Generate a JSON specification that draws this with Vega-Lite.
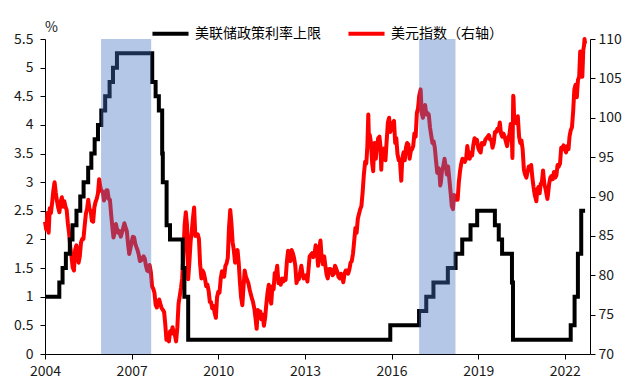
{
  "$schema": "https://vega.github.io/schema/vega-lite/v6.json",
  "width": 545,
  "height": 315,
  "autosize": {"type": "none"},
  "padding": {"left": 45, "top": 39, "right": 50, "bottom": 32},
  "background": "#ffffff",
  "config": {
    "view": {"stroke": null},
    "font": "Noto Sans CJK SC",
    "axis": {"labelFont": "Noto Sans CJK SC", "labelFontSize": 14, "labelColor": "#1a1a1a", "domainColor": "#000000", "tickColor": "#000000", "tickSize": 5, "grid": false}
  },
  "datasets": {
    "band": [
      {"s": "2005-12-10", "e": "2007-09-05"},
      {"s": "2016-12-15", "e": "2018-03-20"}
    ],
    "fed": [
      {"d": "2004-01-01", "r": 1.0},
      {"d": "2004-06-30", "r": 1.25},
      {"d": "2004-08-10", "r": 1.5},
      {"d": "2004-09-21", "r": 1.75},
      {"d": "2004-11-10", "r": 2.0},
      {"d": "2004-12-14", "r": 2.25},
      {"d": "2005-02-02", "r": 2.5},
      {"d": "2005-03-22", "r": 2.75},
      {"d": "2005-05-03", "r": 3.0},
      {"d": "2005-06-30", "r": 3.25},
      {"d": "2005-08-09", "r": 3.5},
      {"d": "2005-09-20", "r": 3.75},
      {"d": "2005-11-01", "r": 4.0},
      {"d": "2005-12-13", "r": 4.25},
      {"d": "2006-01-31", "r": 4.5},
      {"d": "2006-03-28", "r": 4.75},
      {"d": "2006-05-10", "r": 5.0},
      {"d": "2006-06-29", "r": 5.25},
      {"d": "2007-09-18", "r": 4.75},
      {"d": "2007-10-31", "r": 4.5},
      {"d": "2007-12-11", "r": 4.25},
      {"d": "2008-01-22", "r": 3.5},
      {"d": "2008-01-30", "r": 3.0},
      {"d": "2008-03-18", "r": 2.25},
      {"d": "2008-04-30", "r": 2.0},
      {"d": "2008-10-08", "r": 1.5},
      {"d": "2008-10-29", "r": 1.0},
      {"d": "2008-12-16", "r": 0.25},
      {"d": "2015-12-16", "r": 0.5},
      {"d": "2016-12-14", "r": 0.75},
      {"d": "2017-03-15", "r": 1.0},
      {"d": "2017-06-14", "r": 1.25},
      {"d": "2017-12-13", "r": 1.5},
      {"d": "2018-03-21", "r": 1.75},
      {"d": "2018-06-13", "r": 2.0},
      {"d": "2018-09-26", "r": 2.25},
      {"d": "2018-12-19", "r": 2.5},
      {"d": "2019-07-31", "r": 2.25},
      {"d": "2019-09-18", "r": 2.0},
      {"d": "2019-10-30", "r": 1.75},
      {"d": "2020-03-03", "r": 1.25},
      {"d": "2020-03-16", "r": 0.25},
      {"d": "2022-03-16", "r": 0.5},
      {"d": "2022-05-04", "r": 1.0},
      {"d": "2022-06-15", "r": 1.75},
      {"d": "2022-07-27", "r": 2.5},
      {"d": "2022-09-14", "r": 2.5}
    ],
    "dxy": [
      {"d":"2004-01-01","v":86.8},{"d":"2004-01-16","v":85.8},{"d":"2004-02-01","v":87.9},{"d":"2004-02-16","v":85.4},{"d":"2004-03-01","v":88.5},{"d":"2004-03-16","v":87.9},{"d":"2004-04-01","v":89.3},{"d":"2004-04-16","v":90.8},{"d":"2004-05-01","v":91.8},{"d":"2004-05-16","v":90.5},{"d":"2004-06-01","v":89.4},{"d":"2004-06-16","v":88.6},{"d":"2004-07-01","v":88.0},{"d":"2004-07-16","v":89.3},{"d":"2004-08-01","v":89.9},{"d":"2004-08-16","v":88.7},{"d":"2004-09-01","v":89.4},{"d":"2004-09-16","v":88.7},{"d":"2004-10-01","v":88.3},{"d":"2004-10-16","v":86.6},{"d":"2004-11-01","v":85.3},{"d":"2004-11-16","v":83.6},{"d":"2004-12-01","v":82.4},{"d":"2004-12-16","v":81.0},
      {"d":"2005-01-01","v":80.6},{"d":"2005-01-16","v":83.2},{"d":"2005-02-01","v":83.8},{"d":"2005-02-16","v":82.8},{"d":"2005-03-01","v":81.6},{"d":"2005-03-16","v":82.4},{"d":"2005-04-01","v":84.2},{"d":"2005-04-16","v":84.6},{"d":"2005-05-01","v":84.6},{"d":"2005-05-16","v":86.2},{"d":"2005-06-01","v":87.8},{"d":"2005-06-16","v":88.4},{"d":"2005-07-01","v":89.6},{"d":"2005-07-16","v":88.4},{"d":"2005-08-01","v":88.2},{"d":"2005-08-16","v":86.9},{"d":"2005-09-01","v":86.8},{"d":"2005-09-16","v":88.6},{"d":"2005-10-01","v":89.3},{"d":"2005-10-16","v":89.7},{"d":"2005-11-01","v":90.4},{"d":"2005-11-16","v":92.2},{"d":"2005-12-01","v":91.2},{"d":"2005-12-16","v":90.7},
      {"d":"2006-01-01","v":90.6},{"d":"2006-01-16","v":89.5},{"d":"2006-02-01","v":90.0},{"d":"2006-02-16","v":90.8},{"d":"2006-03-01","v":90.8},{"d":"2006-03-16","v":89.7},{"d":"2006-04-01","v":89.6},{"d":"2006-04-16","v":87.8},{"d":"2006-05-01","v":86.2},{"d":"2006-05-16","v":84.8},{"d":"2006-06-01","v":85.4},{"d":"2006-06-16","v":86.5},{"d":"2006-07-01","v":85.8},{"d":"2006-07-16","v":85.4},{"d":"2006-08-01","v":85.6},{"d":"2006-08-16","v":84.9},{"d":"2006-09-01","v":85.4},{"d":"2006-09-16","v":86.0},{"d":"2006-10-01","v":86.6},{"d":"2006-10-16","v":86.1},{"d":"2006-11-01","v":85.6},{"d":"2006-11-16","v":84.0},{"d":"2006-12-01","v":82.7},{"d":"2006-12-16","v":83.4},
      {"d":"2007-01-01","v":84.2},{"d":"2007-01-16","v":84.9},{"d":"2007-02-01","v":84.8},{"d":"2007-02-16","v":84.0},{"d":"2007-03-01","v":83.6},{"d":"2007-03-16","v":83.2},{"d":"2007-04-01","v":82.6},{"d":"2007-04-16","v":81.8},{"d":"2007-05-01","v":81.9},{"d":"2007-05-16","v":82.2},{"d":"2007-06-01","v":82.4},{"d":"2007-06-16","v":82.1},{"d":"2007-07-01","v":81.2},{"d":"2007-07-16","v":80.6},{"d":"2007-08-01","v":80.5},{"d":"2007-08-16","v":81.3},{"d":"2007-09-01","v":80.4},{"d":"2007-09-16","v":78.6},{"d":"2007-10-01","v":78.3},{"d":"2007-10-16","v":77.8},{"d":"2007-11-01","v":76.2},{"d":"2007-11-16","v":75.9},{"d":"2007-12-01","v":76.6},{"d":"2007-12-16","v":76.9},
      {"d":"2008-01-01","v":76.3},{"d":"2008-01-16","v":75.8},{"d":"2008-02-01","v":75.6},{"d":"2008-02-16","v":75.3},{"d":"2008-03-01","v":73.8},{"d":"2008-03-16","v":71.8},{"d":"2008-04-01","v":72.4},{"d":"2008-04-16","v":71.6},{"d":"2008-05-01","v":72.9},{"d":"2008-05-16","v":72.6},{"d":"2008-06-01","v":73.4},{"d":"2008-06-16","v":72.6},{"d":"2008-07-01","v":72.4},{"d":"2008-07-16","v":71.6},{"d":"2008-08-01","v":73.4},{"d":"2008-08-16","v":76.4},{"d":"2008-09-01","v":77.4},{"d":"2008-09-16","v":78.4},{"d":"2008-10-01","v":79.6},{"d":"2008-10-16","v":82.6},{"d":"2008-11-01","v":86.4},{"d":"2008-11-16","v":88.0},{"d":"2008-12-01","v":86.4},{"d":"2008-12-16","v":79.5},
      {"d":"2009-01-01","v":81.8},{"d":"2009-01-16","v":84.3},{"d":"2009-02-01","v":85.8},{"d":"2009-02-16","v":87.4},{"d":"2009-03-01","v":88.6},{"d":"2009-03-16","v":85.0},{"d":"2009-04-01","v":85.2},{"d":"2009-04-16","v":85.2},{"d":"2009-05-01","v":84.6},{"d":"2009-05-16","v":81.4},{"d":"2009-06-01","v":79.6},{"d":"2009-06-16","v":80.6},{"d":"2009-07-01","v":80.3},{"d":"2009-07-16","v":79.6},{"d":"2009-08-01","v":78.6},{"d":"2009-08-16","v":78.8},{"d":"2009-09-01","v":78.0},{"d":"2009-09-16","v":76.6},{"d":"2009-10-01","v":76.6},{"d":"2009-10-16","v":75.8},{"d":"2009-11-01","v":76.1},{"d":"2009-11-16","v":75.2},{"d":"2009-12-01","v":74.6},{"d":"2009-12-16","v":77.2},
      {"d":"2010-01-01","v":77.9},{"d":"2010-01-16","v":77.8},{"d":"2010-02-01","v":79.6},{"d":"2010-02-16","v":80.5},{"d":"2010-03-01","v":80.4},{"d":"2010-03-16","v":79.8},{"d":"2010-04-01","v":81.2},{"d":"2010-04-16","v":81.5},{"d":"2010-05-01","v":82.2},{"d":"2010-05-16","v":86.0},{"d":"2010-06-01","v":88.3},{"d":"2010-06-16","v":86.6},{"d":"2010-07-01","v":84.2},{"d":"2010-07-16","v":83.2},{"d":"2010-08-01","v":81.6},{"d":"2010-08-16","v":82.8},{"d":"2010-09-01","v":83.2},{"d":"2010-09-16","v":81.6},{"d":"2010-10-01","v":79.2},{"d":"2010-10-16","v":77.2},{"d":"2010-11-01","v":76.2},{"d":"2010-11-16","v":78.6},{"d":"2010-12-01","v":80.6},{"d":"2010-12-16","v":79.8},
      {"d":"2011-01-01","v":79.4},{"d":"2011-01-16","v":79.0},{"d":"2011-02-01","v":78.2},{"d":"2011-02-16","v":77.6},{"d":"2011-03-01","v":77.1},{"d":"2011-03-16","v":76.6},{"d":"2011-04-01","v":75.8},{"d":"2011-04-16","v":74.6},{"d":"2011-05-01","v":73.2},{"d":"2011-05-16","v":75.6},{"d":"2011-06-01","v":74.6},{"d":"2011-06-16","v":75.4},{"d":"2011-07-01","v":74.4},{"d":"2011-07-16","v":75.0},{"d":"2011-08-01","v":73.6},{"d":"2011-08-16","v":74.6},{"d":"2011-09-01","v":76.4},{"d":"2011-09-16","v":77.8},{"d":"2011-10-01","v":78.8},{"d":"2011-10-16","v":77.2},{"d":"2011-11-01","v":76.4},{"d":"2011-11-16","v":78.6},{"d":"2011-12-01","v":78.2},{"d":"2011-12-16","v":80.3},
      {"d":"2012-01-01","v":80.2},{"d":"2012-01-16","v":81.2},{"d":"2012-02-01","v":79.0},{"d":"2012-02-16","v":79.4},{"d":"2012-03-01","v":78.8},{"d":"2012-03-16","v":79.6},{"d":"2012-04-01","v":79.2},{"d":"2012-04-16","v":79.6},{"d":"2012-05-01","v":79.4},{"d":"2012-05-16","v":81.6},{"d":"2012-06-01","v":83.1},{"d":"2012-06-16","v":82.1},{"d":"2012-07-01","v":81.8},{"d":"2012-07-16","v":83.2},{"d":"2012-08-01","v":82.8},{"d":"2012-08-16","v":82.2},{"d":"2012-09-01","v":81.2},{"d":"2012-09-16","v":79.0},{"d":"2012-10-01","v":79.6},{"d":"2012-10-16","v":79.5},{"d":"2012-11-01","v":80.4},{"d":"2012-11-16","v":81.2},{"d":"2012-12-01","v":80.2},{"d":"2012-12-16","v":79.6},
      {"d":"2013-01-01","v":79.8},{"d":"2013-01-16","v":80.0},{"d":"2013-02-01","v":79.2},{"d":"2013-02-16","v":80.9},{"d":"2013-03-01","v":82.4},{"d":"2013-03-16","v":82.6},{"d":"2013-04-01","v":82.8},{"d":"2013-04-16","v":82.3},{"d":"2013-05-01","v":82.6},{"d":"2013-05-16","v":83.8},{"d":"2013-06-01","v":83.1},{"d":"2013-06-16","v":81.2},{"d":"2013-07-01","v":83.4},{"d":"2013-07-16","v":84.4},{"d":"2013-08-01","v":82.1},{"d":"2013-08-16","v":81.4},{"d":"2013-09-01","v":82.4},{"d":"2013-09-16","v":81.2},{"d":"2013-10-01","v":80.1},{"d":"2013-10-16","v":79.6},{"d":"2013-11-01","v":80.8},{"d":"2013-11-16","v":80.8},{"d":"2013-12-01","v":80.7},{"d":"2013-12-16","v":80.0},
      {"d":"2014-01-01","v":80.2},{"d":"2014-01-16","v":81.2},{"d":"2014-02-01","v":80.8},{"d":"2014-02-16","v":80.4},{"d":"2014-03-01","v":79.8},{"d":"2014-03-16","v":79.6},{"d":"2014-04-01","v":80.2},{"d":"2014-04-16","v":79.8},{"d":"2014-05-01","v":79.1},{"d":"2014-05-16","v":80.2},{"d":"2014-06-01","v":80.6},{"d":"2014-06-16","v":80.6},{"d":"2014-07-01","v":80.2},{"d":"2014-07-16","v":80.7},{"d":"2014-08-01","v":81.6},{"d":"2014-08-16","v":81.8},{"d":"2014-09-01","v":82.8},{"d":"2014-09-16","v":84.4},{"d":"2014-10-01","v":86.0},{"d":"2014-10-16","v":85.4},{"d":"2014-11-01","v":87.2},{"d":"2014-11-16","v":87.8},{"d":"2014-12-01","v":88.4},{"d":"2014-12-16","v":88.8},
      {"d":"2015-01-01","v":90.6},{"d":"2015-01-16","v":92.8},{"d":"2015-02-01","v":94.4},{"d":"2015-02-16","v":94.2},{"d":"2015-03-01","v":96.4},{"d":"2015-03-13","v":100.4},{"d":"2015-03-20","v":97.6},{"d":"2015-04-01","v":97.8},{"d":"2015-04-16","v":96.8},{"d":"2015-05-01","v":94.2},{"d":"2015-05-14","v":93.2},{"d":"2015-05-26","v":96.6},{"d":"2015-06-01","v":96.8},{"d":"2015-06-16","v":94.8},{"d":"2015-07-01","v":96.2},{"d":"2015-07-16","v":97.4},{"d":"2015-08-01","v":97.6},{"d":"2015-08-16","v":96.2},{"d":"2015-08-24","v":93.4},{"d":"2015-09-01","v":95.2},{"d":"2015-09-16","v":95.6},{"d":"2015-10-01","v":96.1},{"d":"2015-10-16","v":94.6},{"d":"2015-11-01","v":97.2},{"d":"2015-11-16","v":99.4},{"d":"2015-12-01","v":100.0},{"d":"2015-12-16","v":98.2},
      {"d":"2016-01-01","v":98.8},{"d":"2016-01-16","v":99.3},{"d":"2016-02-01","v":99.6},{"d":"2016-02-16","v":96.8},{"d":"2016-03-01","v":97.4},{"d":"2016-03-16","v":95.4},{"d":"2016-04-01","v":94.6},{"d":"2016-04-16","v":94.6},{"d":"2016-05-03","v":92.0},{"d":"2016-05-16","v":94.8},{"d":"2016-06-01","v":95.6},{"d":"2016-06-16","v":94.6},{"d":"2016-07-01","v":96.2},{"d":"2016-07-16","v":96.8},{"d":"2016-08-01","v":96.6},{"d":"2016-08-16","v":94.8},{"d":"2016-09-01","v":95.8},{"d":"2016-09-16","v":96.0},{"d":"2016-10-01","v":96.4},{"d":"2016-10-16","v":98.0},{"d":"2016-11-01","v":97.6},{"d":"2016-11-16","v":100.6},{"d":"2016-12-01","v":101.2},{"d":"2016-12-16","v":102.8},
      {"d":"2017-01-03","v":103.6},{"d":"2017-01-16","v":100.6},{"d":"2017-02-01","v":100.0},{"d":"2017-02-16","v":101.2},{"d":"2017-03-01","v":101.6},{"d":"2017-03-16","v":100.4},{"d":"2017-04-01","v":100.6},{"d":"2017-04-16","v":100.4},{"d":"2017-05-01","v":98.8},{"d":"2017-05-16","v":97.8},{"d":"2017-06-01","v":96.8},{"d":"2017-06-16","v":97.0},{"d":"2017-07-01","v":96.2},{"d":"2017-07-16","v":94.6},{"d":"2017-08-01","v":93.0},{"d":"2017-08-16","v":93.6},{"d":"2017-09-01","v":92.6},{"d":"2017-09-08","v":91.4},{"d":"2017-09-16","v":91.8},{"d":"2017-10-01","v":93.4},{"d":"2017-10-16","v":93.8},{"d":"2017-11-01","v":94.8},{"d":"2017-11-16","v":93.8},{"d":"2017-12-01","v":92.8},{"d":"2017-12-16","v":93.8},
      {"d":"2018-01-01","v":92.2},{"d":"2018-01-16","v":90.6},{"d":"2018-02-01","v":88.8},{"d":"2018-02-16","v":88.4},{"d":"2018-03-01","v":90.2},{"d":"2018-03-16","v":89.8},{"d":"2018-04-01","v":89.6},{"d":"2018-04-16","v":89.6},{"d":"2018-05-01","v":91.8},{"d":"2018-05-16","v":93.2},{"d":"2018-06-01","v":94.2},{"d":"2018-06-16","v":94.8},{"d":"2018-07-01","v":94.6},{"d":"2018-07-16","v":94.4},{"d":"2018-08-01","v":94.8},{"d":"2018-08-16","v":96.4},{"d":"2018-09-01","v":95.2},{"d":"2018-09-16","v":94.8},{"d":"2018-10-01","v":95.6},{"d":"2018-10-16","v":95.2},{"d":"2018-11-01","v":96.6},{"d":"2018-11-16","v":97.4},{"d":"2018-12-01","v":96.8},{"d":"2018-12-16","v":97.2},
      {"d":"2019-01-01","v":96.2},{"d":"2019-01-16","v":95.8},{"d":"2019-02-01","v":95.6},{"d":"2019-02-16","v":96.8},{"d":"2019-03-01","v":96.6},{"d":"2019-03-16","v":96.6},{"d":"2019-04-01","v":97.2},{"d":"2019-04-16","v":97.4},{"d":"2019-05-01","v":97.6},{"d":"2019-05-16","v":97.8},{"d":"2019-06-01","v":97.2},{"d":"2019-06-16","v":97.2},{"d":"2019-07-01","v":96.2},{"d":"2019-07-16","v":96.8},{"d":"2019-08-01","v":98.2},{"d":"2019-08-16","v":98.2},{"d":"2019-09-01","v":98.6},{"d":"2019-09-16","v":98.4},{"d":"2019-10-01","v":99.4},{"d":"2019-10-16","v":98.0},{"d":"2019-11-01","v":97.6},{"d":"2019-11-16","v":98.0},{"d":"2019-12-01","v":97.6},{"d":"2019-12-16","v":97.0},
      {"d":"2020-01-01","v":96.4},{"d":"2020-01-16","v":97.4},{"d":"2020-02-01","v":97.9},{"d":"2020-02-16","v":99.2},{"d":"2020-03-01","v":97.6},{"d":"2020-03-09","v":94.9},{"d":"2020-03-19","v":102.8},{"d":"2020-03-23","v":102.5},{"d":"2020-04-01","v":99.4},{"d":"2020-04-16","v":100.0},{"d":"2020-05-01","v":99.3},{"d":"2020-05-16","v":100.2},{"d":"2020-06-01","v":97.6},{"d":"2020-06-16","v":96.8},{"d":"2020-07-01","v":97.1},{"d":"2020-07-16","v":96.0},{"d":"2020-08-01","v":93.4},{"d":"2020-08-16","v":92.8},{"d":"2020-09-01","v":92.4},{"d":"2020-09-16","v":93.1},{"d":"2020-10-01","v":93.8},{"d":"2020-10-16","v":93.4},{"d":"2020-11-01","v":94.0},{"d":"2020-11-16","v":92.4},{"d":"2020-12-01","v":91.2},{"d":"2020-12-16","v":90.2},
      {"d":"2021-01-06","v":89.4},{"d":"2021-01-16","v":90.8},{"d":"2021-02-01","v":91.2},{"d":"2021-02-16","v":90.4},{"d":"2021-03-01","v":91.6},{"d":"2021-03-16","v":91.8},{"d":"2021-03-31","v":93.3},{"d":"2021-04-16","v":91.6},{"d":"2021-05-01","v":91.0},{"d":"2021-05-25","v":89.7},{"d":"2021-06-01","v":90.2},{"d":"2021-06-16","v":91.6},{"d":"2021-07-01","v":92.4},{"d":"2021-07-16","v":92.6},{"d":"2021-08-01","v":92.2},{"d":"2021-08-16","v":93.1},{"d":"2021-09-01","v":92.4},{"d":"2021-09-16","v":92.7},{"d":"2021-10-01","v":94.0},{"d":"2021-10-16","v":93.8},{"d":"2021-11-01","v":94.2},{"d":"2021-11-16","v":96.2},{"d":"2021-12-01","v":96.0},{"d":"2021-12-16","v":96.5},
      {"d":"2022-01-01","v":96.0},{"d":"2022-01-16","v":95.6},{"d":"2022-02-01","v":96.4},{"d":"2022-02-16","v":96.0},{"d":"2022-03-01","v":97.6},{"d":"2022-03-16","v":98.4},{"d":"2022-04-01","v":98.8},{"d":"2022-04-16","v":100.8},{"d":"2022-05-01","v":103.6},{"d":"2022-05-16","v":104.2},{"d":"2022-06-01","v":102.6},{"d":"2022-06-16","v":104.8},{"d":"2022-07-01","v":105.2},{"d":"2022-07-14","v":108.4},{"d":"2022-07-29","v":105.9},{"d":"2022-08-10","v":105.2},{"d":"2022-08-22","v":108.6},{"d":"2022-09-01","v":109.2},{"d":"2022-09-07","v":110.0},{"d":"2022-09-14","v":109.4}
    ]
  },
  "layer": [
    {
      "data": {"name": "dxy"},
      "mark": {"type": "line", "strokeWidth": 4, "strokeJoin": "round"},
      "encoding": {
        "x": {"field": "d", "type": "temporal",
          "scale": {"domain": [{"year": 2004, "month": 1, "date": 1}, {"year": 2022, "month": 11, "date": 15}], "nice": false},
          "axis": {"title": null, "format": "%Y", "labelPadding": 5, "labelFlush": false,
            "values": [{"year": 2004, "month": 1, "date": 1}, {"year": 2007, "month": 1, "date": 1}, {"year": 2010, "month": 1, "date": 1}, {"year": 2013, "month": 1, "date": 1}, {"year": 2016, "month": 1, "date": 1}, {"year": 2019, "month": 1, "date": 1}, {"year": 2022, "month": 1, "date": 1}]}},
        "y": {"field": "v", "type": "quantitative",
          "scale": {"domain": [70, 110], "nice": false, "zero": false},
          "axis": {"orient": "right", "title": null, "values": [70, 75, 80, 85, 90, 95, 100, 105, 110], "labelPadding": 3}},
        "color": {"datum": "美元指数（右轴）", "type": "nominal",
          "scale": {"domain": ["美联储政策利率上限", "美元指数（右轴）"], "range": ["#000000", "#ff0000"]},
          "legend": {"orient": "none", "legendX": 105, "legendY": -26, "direction": "horizontal", "title": null,
            "symbolType": "stroke", "symbolStrokeWidth": 4, "symbolSize": 1300, "labelFontSize": 14,
            "labelFont": "Noto Sans CJK SC", "labelColor": "#000000", "columnPadding": 19, "labelOffset": 4, "padding": 0}}
      }
    },
    {
      "data": {"name": "fed"},
      "mark": {"type": "line", "strokeWidth": 4, "interpolate": "step-after", "strokeJoin": "miter"},
      "encoding": {
        "x": {"field": "d", "type": "temporal"},
        "y": {"field": "r", "type": "quantitative",
          "scale": {"domain": [0, 5.5], "nice": false},
          "axis": {"orient": "left", "values": [0, 0.5, 1, 1.5, 2, 2.5, 3, 3.5, 4, 4.5, 5, 5.5], "labelExpr": "'' + datum.value", "labelPadding": 7,
            "title": "%", "titleAngle": 0, "titleX": 6, "titleY": -12, "titleAlign": "center", "titleBaseline": "middle", "titleFontSize": 14, "titleFontWeight": "normal", "titleFont": "Noto Sans CJK SC", "titleColor": "#1a1a1a"}},
        "color": {"datum": "美联储政策利率上限", "type": "nominal"}
      }
    },
    {
      "data": {"name": "band"},
      "mark": {"type": "rect", "color": "#4472c4", "opacity": 0.4},
      "encoding": {
        "x": {"field": "s", "type": "temporal"},
        "x2": {"field": "e"}
      }
    }
  ],
  "resolve": {"scale": {"y": "independent"}}
}
